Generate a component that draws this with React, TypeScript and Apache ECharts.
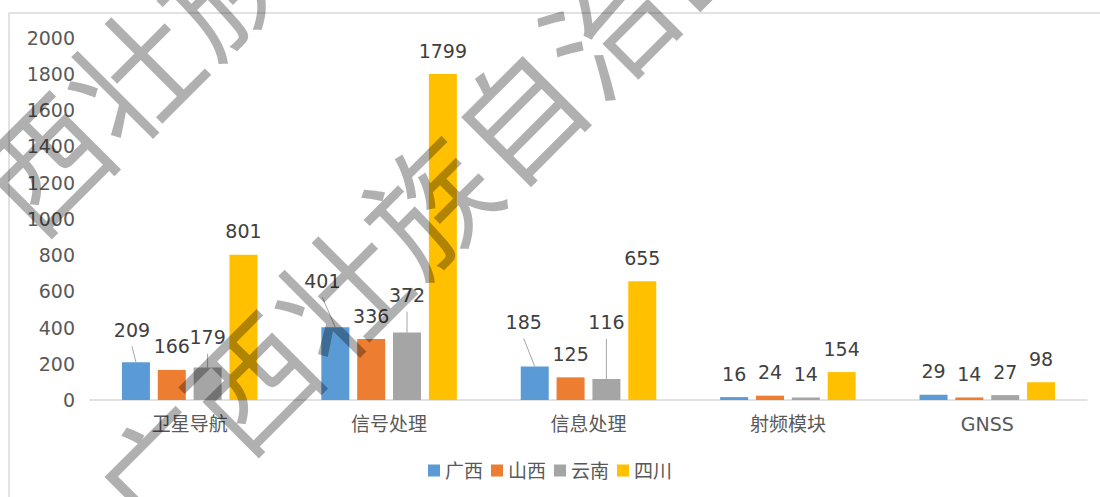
import React, { useEffect, useRef } from "react";
import * as echarts from "echarts";

const categories = ["卫星导航", "信号处理", "信息处理", "射频模块", "GNSS"];
const seriesNames = ["广西", "山西", "云南", "四川"];
const guangxi = [209, 401, 185, 16, 29];
const shanxi = [166, 336, 125, 24, 14];
const yunnan = [179, 372, 116, 14, 27];
const sichuan = [801, 1799, 655, 154, 98];
const colors = ["#5B9BD5", "#ED7D31", "#A5A5A5", "#FFC000"];
const yTicks = { min: 0, max: 2000, interval: 200 };

// label shifts [dx, dy] per series, per category (leader-line labels)
const labelShift: number[][][] = [
  [[-4, -9], [-13, -23], [-11, -21], [0, 0], [0, 0]],
  [[0, 0], [0, 0], [0, 0], [0, 0], [0, 0]],
  [[0, -7], [0, -14], [0, -33], [0, 0], [0, 0]],
  [[0, 0], [0, 0], [0, 0], [0, 0], [0, 0]],
];

const watermarkText = "广西壮族自治区";
const FONT = "'DejaVu Sans', 'Noto Sans CJK SC', sans-serif";

export default function App() {
  const ref = useRef<HTMLDivElement>(null);
  useEffect(() => {
    if (!ref.current) return;
    const chart = echarts.init(ref.current, undefined, { renderer: "svg" });
    const values = [guangxi, shanxi, yunnan, sichuan];
    const rot = Math.PI / 4;
    const wmStyle = {
      text: watermarkText,
      fontSize: 126,
      fontFamily: "'Noto Sans CJK SC', sans-serif",
      fill: "rgba(0,0,0,0.31)",
      textAlign: "left",
      textVerticalAlign: "middle",
    };
    const baseGraphic: any[] = [
      {
        type: "rect",
        silent: true,
        shape: { x: 9, y: 13, width: 1200, height: 600 },
        style: { fill: "none", stroke: "#d9d9d9", lineWidth: 1.5 },
        z: -1,
      },
      {
        type: "text",
        silent: true,
        x: 114,
        y: 512,
        rotation: rot,
        z: 100,
        style: wmStyle,
      },
      {
        type: "text",
        silent: true,
        x: -93,
        y: 293,
        rotation: rot,
        z: 100,
        style: wmStyle,
      },
    ];
    chart.setOption({
      animation: false,
      backgroundColor: "#ffffff",
      textStyle: { fontFamily: FONT },
      grid: { left: 90, right: 13, top: 37.6, bottom: 97, containLabel: false },
      legend: {
        data: seriesNames,
        bottom: 12,
        left: "center",
        icon: "rect",
        itemWidth: 12,
        itemHeight: 12,
        itemGap: 8,
        textStyle: { fontSize: 19, color: "#595959", fontFamily: FONT },
      },
      xAxis: {
        type: "category",
        data: categories,
        axisLine: { lineStyle: { color: "#d9d9d9", width: 1.5 } },
        axisTick: { show: false },
        axisLabel: { fontSize: 19, color: "#595959", margin: 14, fontFamily: FONT },
      },
      yAxis: {
        type: "value",
        min: yTicks.min,
        max: yTicks.max,
        interval: yTicks.interval,
        splitLine: { show: false },
        axisLine: { show: false },
        axisTick: { show: false },
        axisLabel: {
          fontSize: 19,
          color: "#595959",
          margin: 15,
          fontFamily: FONT,
          formatter: (v: number) => String(v),
        },
      },
      series: seriesNames.map((name, si) => ({
        name,
        type: "bar",
        data: values[si],
        barWidth: 28,
        barGap: "28%",
        itemStyle: { color: colors[si] },
        label: {
          show: true,
          position: "top",
          distance: 14,
          fontSize: 19,
          color: "#404040",
          fontFamily: FONT,
        },
        labelLayout: (p: any) => {
          const s = labelShift[si][p.dataIndex] || [0, 0];
          return { dx: s[0], dy: s[1] };
        },
      })),
      graphic: baseGraphic,
    });

    // leader lines from shifted labels to the bar tops, using the bars' own layout
    const lines: any[] = [];
    const model = (chart as any).getModel();
    seriesNames.forEach((_, si) => {
      const data = model.getSeriesByIndex(si).getData();
      values[si].forEach((_v, di) => {
        const s = labelShift[si][di];
        if (s[0] === 0 && s[1] === 0) return;
        const lay = data.getItemLayout(di);
        if (!lay) return;
        const top = Math.min(lay.y, lay.y + lay.height);
        const cx = lay.x + lay.width / 2;
        lines.push({
          type: "line",
          silent: true,
          z: 5,
          shape: { x1: cx + s[0], y1: top + s[1] - 7, x2: cx, y2: top },
          style: { stroke: "#a6a6a6", lineWidth: 1 },
        });
      });
    });
    chart.setOption({ graphic: baseGraphic.concat(lines) });
    return () => chart.dispose();
  }, []);
  return (
    <div
      ref={ref}
      style={{ position: "fixed", left: 0, top: 0, width: 1100, height: 497 }}
    />
  );
}
